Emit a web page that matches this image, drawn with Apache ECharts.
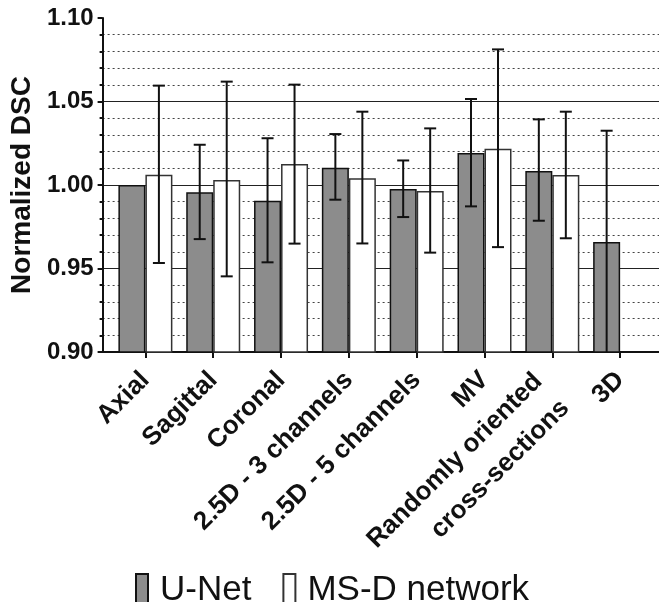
<!DOCTYPE html>
<html>
<head>
<meta charset="utf-8">
<script src="https://cdn.jsdelivr.net/npm/echarts@6/dist/echarts.min.js"></script>
<style>
html,body{margin:0;padding:0;background:#fff;}
#chart{width:659px;height:602px;}
</style>
</head>
<body>
<div id="chart"></div>
<script>
// ---- data ----
var categories = ['Axial', 'Sagittal', 'Coronal', '2.5D - 3 channels', '2.5D - 5 channels', 'MV', 'Randomly oriented\ncross-sections', '3D'];
var unetMean = [1.000, 0.9956, 0.9906, 1.0103, 0.9976, 1.0192, 1.0084, 0.9659];
var unetLow  = [1.000, 0.9676, 0.9537, 0.9912, 0.9808, 0.9872, 0.9786, 0.8993];
var unetHigh = [1.000, 1.0241, 1.0280, 1.0305, 1.0147, 1.0515, 1.0393, 1.0325];
var msdMean  = [1.0062, 1.0030, 1.0126, 1.0040, 0.9964, 1.0217, 1.0060, null];
var msdLow   = [0.9533, 0.9453, 0.9649, 0.9650, 0.9595, 0.9628, 0.9681, null];
var msdHigh  = [1.0595, 1.0619, 1.0601, 1.0439, 1.0339, 1.0812, 1.0439, null];
var yTicks = [0.90, 0.95, 1.00, 1.05, 1.10];

var FONT = '"Liberation Sans", Arial, Helvetica, sans-serif';
var BAR_W = 27;

function pairs(vals) {
  return vals.map(function (v, i) { return v == null ? [i, null] : [i, v]; });
}
function errData(low, high) {
  var out = [];
  for (var i = 0; i < low.length; i++) {
    if (low[i] != null && high[i] != null && high[i] !== low[i]) out.push([i, low[i], high[i]]);
  }
  return out;
}
function errRenderer(side) {
  return function (params, api) {
    var x = api.value(0);
    var lo = api.coord([x, api.value(1)]);
    var hi = api.coord([x, api.value(2)]);
    var cx = lo[0] + side * BAR_W / 2;
    var cap = 6;
    var style = { stroke: '#111', lineWidth: 2, fill: null };
    return {
      type: 'group',
      children: [
        { type: 'line', shape: { x1: cx, y1: lo[1], x2: cx, y2: hi[1] }, style: style },
        { type: 'line', shape: { x1: cx - cap, y1: hi[1], x2: cx + cap, y2: hi[1] }, style: style },
        { type: 'line', shape: { x1: cx - cap, y1: lo[1], x2: cx + cap, y2: lo[1] }, style: style }
      ]
    };
  };
}
function xLabel(v) {
  var name = categories[Math.round(v)] || '';
  if (name.indexOf('\n') < 0) return name;
  // multi-line label: small spacer line on top, right padding
  return '{s| }\n' + name.split('\n').map(function (l) { return '{a|' + l + '}'; }).join('\n');
}

var idx = categories.map(function (c, i) { return i; });
var labelFont = { fontSize: 26, fontWeight: 'bold', fontFamily: FONT, color: '#111' };

var chart = echarts.init(document.getElementById('chart'), null, { renderer: 'canvas' });
chart.setOption({
  animation: false,
  backgroundColor: '#fff',
  grid: { left: 100, right: 0, top: 18, bottom: 250, containLabel: false },
  legend: {
    left: 130, top: 568,
    itemWidth: 12, itemHeight: 33, itemGap: 31,
    icon: 'rect',
    textStyle: { fontSize: 35, fontFamily: FONT, color: '#111', padding: [0, 0, 0, 7] },
    data: ['U-Net', 'MS-D network']
  },
  xAxis: {
    type: 'value',
    min: -0.631, max: 7.573,
    axisLine: { show: true, onZero: false, lineStyle: { color: '#111', width: 2 } },
    axisTick: { show: true, customValues: idx, length: 6, lineStyle: { color: '#111', width: 2 } },
    axisLabel: {
      show: true, customValues: idx, rotate: 45, margin: 24,
      fontSize: 26, fontWeight: 'bold', fontFamily: FONT, color: '#111', lineHeight: 38,
      formatter: xLabel,
      rich: {
        s: { fontSize: 10, lineHeight: 20, fontFamily: FONT },
        a: { fontSize: 26, fontWeight: 'bold', fontFamily: FONT, color: '#111', lineHeight: 38, padding: [0, 11, 0, 0] }
      }
    },
    splitLine: { show: false }
  },
  yAxis: {
    type: 'value',
    min: 0.90, max: 1.10, interval: 0.05,
    name: 'Normalized DSC', nameLocation: 'middle', nameGap: 66,
    nameTextStyle: { fontSize: 28, fontWeight: 'bold', fontFamily: FONT, color: '#111' },
    axisLine: { show: true, onZero: false, lineStyle: { color: '#111', width: 2 } },
    axisTick: { show: true, length: 5, lineStyle: { color: '#111', width: 2 } },
    minorTick: { show: true, splitNumber: 5, length: 3, lineStyle: { color: '#111', width: 2 } },
    axisLabel: {
      margin: 9, fontSize: 24, fontWeight: 'bold', fontFamily: FONT, color: '#111',
      formatter: function (v) { return v.toFixed(2); }
    },
    splitLine: { show: true, showMaxLine: false, showMinLine: false, lineStyle: { color: '#222', width: 1.2 } },
    minorSplitLine: { show: true, lineStyle: { color: '#444', width: 1.2, type: [2, 3] } }
  },
  series: [
    {
      name: 'U-Net', type: 'bar', data: pairs(unetMean), barWidth: BAR_W, barGap: '0%',
      itemStyle: { color: '#8c8c8c', borderColor: '#111', borderWidth: 1.5 }, z: 3
    },
    {
      name: 'MS-D network', type: 'bar', data: pairs(msdMean), barWidth: BAR_W, barGap: '0%',
      itemStyle: { color: '#ffffff', borderColor: '#333', borderWidth: 1.5 }, z: 3
    },
    {
      name: 'U-Net err', type: 'custom', data: errData(unetLow, unetHigh), clip: true,
      encode: { x: 0, y: [1, 2] }, renderItem: errRenderer(-1), z: 5, silent: true
    },
    {
      name: 'MS-D err', type: 'custom', data: errData(msdLow, msdHigh), clip: true,
      encode: { x: 0, y: [1, 2] }, renderItem: errRenderer(1), z: 5, silent: true
    }
  ]
});
</script>
</body>
</html>
